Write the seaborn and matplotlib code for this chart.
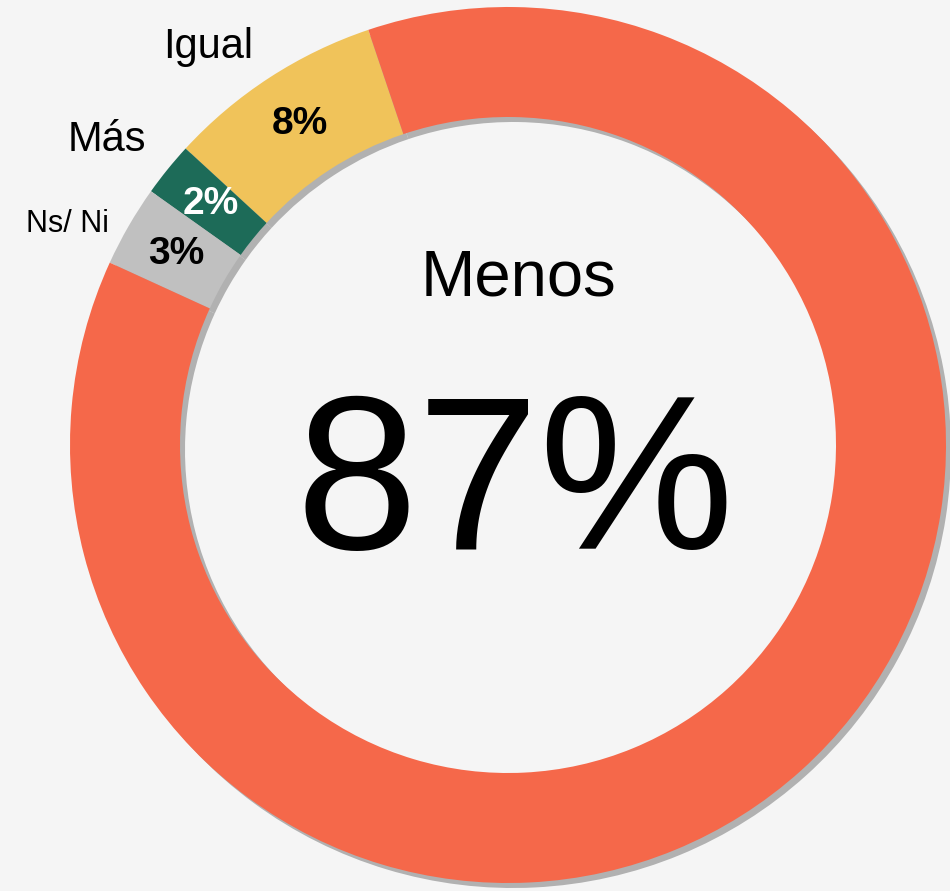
import numpy as np
import matplotlib
matplotlib.use("Agg")
import matplotlib.pyplot as plt
import seaborn as sns

# Datos
categorias = ["Igual", "Más", "Ns/ Ni", "Menos"]
valores = [8, 2, 3, 87]
colores = ["#F0C35A", "#1D6B58", "#C0C0C0", "#F5684A"]
color_pct = ["black", "white", "black"]

sns.set_theme(style="white")
fuente = ["Liberation Sans Narrow", "Liberation Sans", "DejaVu Sans"]
plt.rcParams["font.family"] = fuente
plt.rcParams["text.color"] = "black"

fondo = "#F5F5F5"
fig = plt.figure(figsize=(9.5, 8.91), dpi=100, facecolor=fondo)
ax = fig.add_axes([0, 0, 1, 1])
ax.set_facecolor(fondo)

cx, cy = 508, 446
R, ancho = 438, 110
inicio = 108.6

# sombra
sombra, _ = ax.pie(valores, colors=["#A0A0A0"] * 4, startangle=inicio, radius=R,
                   center=(cx + 5, cy - 5), wedgeprops=dict(width=ancho, linewidth=0),
                   frame=True)
for w in sombra:
    w.set_alpha(0.8)

wedges, _ = ax.pie(valores, colors=colores, startangle=inicio, radius=R,
                   center=(cx, cy), wedgeprops=dict(width=ancho, linewidth=0),
                   frame=True)
ax.set_xlim(0, 950)
ax.set_ylim(0, 891)
ax.set_aspect("equal")
ax.axis("off")

# porcentajes dentro del anillo
for w, v, c in zip(wedges[:3], valores[:3], color_pct):
    ang = np.deg2rad((w.theta1 + w.theta2) / 2)
    r = R - ancho / 2
    ax.text(cx + r * np.cos(ang), cy + r * np.sin(ang), f"{v}%",
            ha="center", va="center", fontsize=28, fontweight="bold", color=c)

# etiquetas externas
ax.text(208, 891 - 47, "Igual", ha="center", va="center", fontsize=30)
ax.text(107, 891 - 140, "Más", ha="center", va="center", fontsize=30)
ax.text(67, 891 - 224, "Ns/ Ni", ha="center", va="center", fontsize=22)

# centro
ax.text(518, 891 - 278, categorias[3], ha="center", va="center", fontsize=47)
ax.text(515, 891 - 492, f"{valores[3]}%", ha="center", va="center", fontsize=158)

plt.savefig("out.png", dpi=100, facecolor=fondo)
plt.close()
